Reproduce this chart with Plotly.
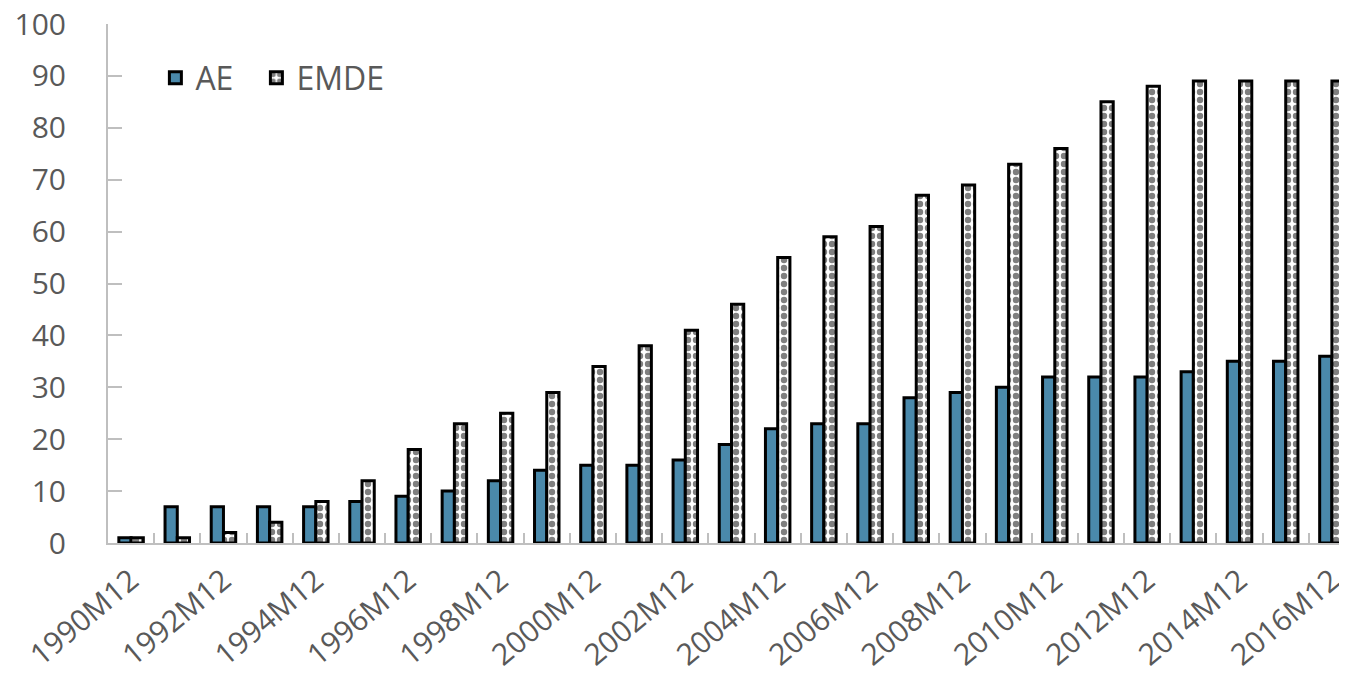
import plotly.graph_objects as go

years = list(range(1990, 2017))
categories = [f"{y}M12" for y in years]
ae = [1, 7, 7, 7, 7, 8, 9, 10, 12, 14, 15, 15, 16, 19, 22, 23, 23, 28, 29, 30, 32, 32, 32, 33, 35, 35, 36]
emde = [1, 1, 2, 4, 8, 12, 18, 23, 25, 29, 34, 38, 41, 46, 55, 59, 61, 67, 69, 73, 76, 85, 88, 89, 89, 89, 89]
tick_text = [c if i % 2 == 0 else "" for i, c in enumerate(categories)]
y_ticks = list(range(0, 101, 10))

fig = go.Figure()
fig.add_trace(go.Bar(
    x=categories, y=ae, name="AE", legend="legend",
    marker=dict(color="#4a89ab", line=dict(color="black", width=3)),
))
fig.add_trace(go.Bar(
    x=categories, y=emde, name="EMDE", legend="legend2",
    marker=dict(color="white", line=dict(color="black", width=3),
                pattern=dict(shape=".", fgcolor="black", bgcolor="white", size=8, solidity=0.5)),
))

font_color = "#595959"
leg_common = dict(orientation="h", y=0.896, xanchor="left", yanchor="middle",
                  font=dict(size=32, color=font_color), bgcolor="rgba(0,0,0,0)", itemwidth=30)
fig.update_layout(
    width=1347, height=680,
    margin=dict(l=100, r=0, t=16, b=145, autoexpand=False),
    plot_bgcolor="white", paper_bgcolor="white",
    barmode="group", bargap=0.47, bargroupgap=0.0,
    font=dict(family="Open Sans", color=font_color, size=30),
    legend=dict(x=0.038, **leg_common),
    legend2=dict(x=0.119, **leg_common),
    showlegend=True,
)
fig.update_xaxes(
    type="category", tickvals=categories, ticktext=tick_text, tickangle=-40,
    tickson="boundaries", ticks="inside", ticklen=10, tickcolor="#bfbfbf", tickwidth=2,
    showline=True, linecolor="#bfbfbf", linewidth=2, showgrid=False, automargin=False,
    tickfont=dict(size=30, color=font_color), ticklabelstandoff=6, ticklabeloverflow="allow",
)
fig.update_yaxes(
    range=[0, 100], tickvals=y_ticks, ticks="inside", ticklen=14, tickcolor="#bfbfbf", tickwidth=2,
    showline=True, linecolor="#bfbfbf", linewidth=2, showgrid=False, zeroline=False, automargin=False,
    tickfont=dict(size=30, color=font_color), ticklabelstandoff=34, ticklabeloverflow="allow",
)

fig.write_html("out.html")
